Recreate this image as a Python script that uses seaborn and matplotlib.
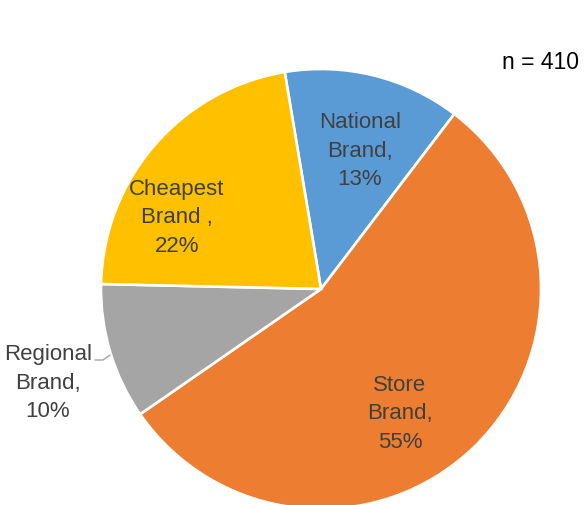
import matplotlib
matplotlib.use("Agg")
import matplotlib.pyplot as plt
import seaborn as sns

# --- data -------------------------------------------------------------------
brands = ["National\nBrand,", "Store\nBrand,", "Regional\nBrand,", "Cheapest\nBrand ,"]
shares = [13, 55, 10, 22]
colors = ["#5B9BD5", "#ED7D31", "#A5A5A5", "#FFC000"]
sample_size = 410

sns.set_theme(style="white")
plt.rcParams["font.family"] = ["Liberation Sans", "DejaVu Sans"]

W, H = 586, 506
fig = plt.figure(figsize=(W / 100, H / 100), dpi=100)
ax = fig.add_axes([0, 0, 1, 1])

palette = sns.color_palette(colors)
wedges, _ = ax.pie(shares, colors=palette, startangle=99.5, counterclock=False,
                   center=(321, H - 290), radius=220,
                   wedgeprops=dict(edgecolor="white", linewidth=1.9))

ax.set_xlim(0, W)
ax.set_ylim(0, H)
ax.set_aspect("equal")
ax.axis("off")

# label positions (pixel coords, top-left origin)
label_pos = [(360, 151), (400, 414), (48, 383), (177, 218)]
for name, pct, (x, y) in zip(brands, shares, label_pos):
    ax.text(x, H - y, f"{name}\n{pct}%", ha="center", va="center",
            fontsize=16, color="#404040", linespacing=1.48)

# leader line for the Regional label
ax.plot([95, 103, 110], [H - 361, H - 361, H - 356], color="#A6A6A6", lw=1)

ax.text(540, H - 62, f"n = {sample_size}", ha="center", va="center",
        fontsize=16.5, color="black")

fig.savefig("out.png", dpi=100)
